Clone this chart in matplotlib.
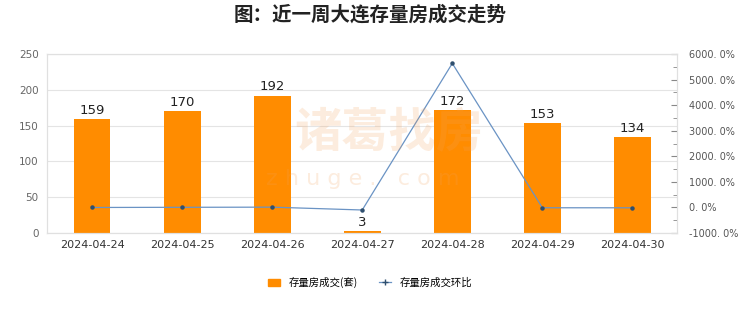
import matplotlib.pyplot as plt
from matplotlib.ticker import MultipleLocator, FuncFormatter
from matplotlib.lines import Line2D
from matplotlib.patches import Patch

plt.rcParams['font.family'] = ['DejaVu Sans', 'Noto Sans CJK SC']

dates = ['2024-04-24', '2024-04-25', '2024-04-26', '2024-04-27',
         '2024-04-28', '2024-04-29', '2024-04-30']
deals = [159, 170, 192, 3, 172, 153, 134]
ratio = [0.0, 6.9, 12.9, -98.4, 5633.3, -11.0, -12.4]   # 环比 %

cjk = ['Noto Sans CJK SC', 'DejaVu Sans']

fig = plt.figure(figsize=(7.4, 3.12), dpi=100)
ax = fig.add_axes([0.0635, 0.253, 0.852, 0.574])
ax2 = ax.twinx()

x = range(len(dates))
ax.bar(x, deals, width=0.41, color='#ff8c00', zorder=2)
for i, v in enumerate(deals):
    ax.text(i, v + 3, str(v), ha='center', va='bottom', fontsize=9.5, color='#222222')

ax.set_xlim(-0.5, len(dates) - 0.5)
ax.set_ylim(0, 250)
ax.yaxis.set_major_locator(MultipleLocator(50))
ax.grid(axis='y', color='#e4e4e4', lw=0.8, zorder=0)
ax.set_xticks(list(x))
ax.set_xticklabels(dates, fontsize=8, color='#333333')
ax.tick_params(axis='x', length=0, pad=5)
ax.tick_params(axis='y', length=0, labelsize=7.5, labelcolor='#666666', pad=6)

ax2.plot(x, ratio, color='#6a93c4', lw=0.9, marker='o', ms=2.2,
         mfc='#2f4f6f', mec='#2f4f6f', zorder=3)
ax2.set_ylim(-1000, 6000)
ax2.yaxis.set_major_locator(MultipleLocator(1000))
ax2.yaxis.set_minor_locator(MultipleLocator(500))
ax2.yaxis.set_major_formatter(FuncFormatter(lambda v, p: '%d. 0%%' % v))
ax2.tick_params(axis='y', which='both', direction='in', colors='#888888',
                labelsize=7, labelcolor='#555555', pad=8)
ax2.tick_params(axis='y', which='major', length=4)
ax2.tick_params(axis='y', which='minor', length=3)

for a in (ax, ax2):
    for s in a.spines.values():
        s.set_color('#e0e0e0')
        s.set_linewidth(0.8)

# watermark
fig.text(0.525, 0.575, '诸葛找房', family=cjk, fontsize=34, fontweight='bold',
         color='#f3a15a', alpha=0.2, ha='center', va='center')
fig.text(0.49, 0.425, 'z h u g e .   c o m', fontsize=16, color='#f3a15a',
         alpha=0.2, ha='center', va='center')

fig.suptitle('图：近一周大连存量房成交走势', x=0.5, y=0.985, fontsize=14,
             fontweight='bold', color='#222222', family=cjk)

handles = [Patch(color='#ff8c00'),
           Line2D([], [], color='#6a93c4', lw=0.9, marker='+', ms=5,
                  mec='#2f4f6f', mew=1.0)]
labels = ['存量房成交(套)', '存量房成交环比']
fig.legend(handles, labels, loc='center', bbox_to_anchor=(0.5, 0.095), ncol=2,
           frameon=False, prop={'family': cjk, 'size': 7.5}, handlelength=1.2,
           handleheight=0.7, columnspacing=2.0)

fig.savefig('out.png', dpi=100)
